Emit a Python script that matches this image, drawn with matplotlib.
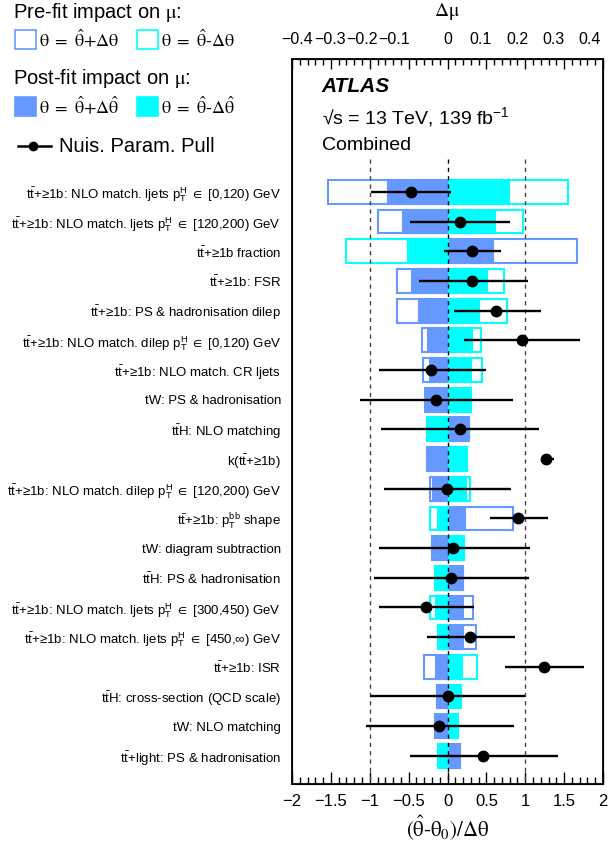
import numpy as np
import matplotlib
matplotlib.use("Agg")
import matplotlib.pyplot as plt
from matplotlib.patches import Rectangle
from matplotlib.lines import Line2D
from matplotlib.ticker import MultipleLocator
from matplotlib.transforms import ScaledTranslation

plt.rcParams['font.family'] = ['Liberation Sans', 'DejaVu Sans']
plt.rcParams['mathtext.fontset'] = 'custom'
plt.rcParams['mathtext.rm'] = 'Liberation Sans'
plt.rcParams['mathtext.it'] = 'Liberation Sans:italic'
plt.rcParams['mathtext.bf'] = 'Liberation Sans:bold'
plt.rcParams['mathtext.fallback'] = 'stix'

TT = r"t$\bar{\rm t}$"
PTH = r"$\mathrm{p}_{\rm T}^{\rm H}$ ${\in}$"

labels = [
    TT + "+≥1b: NLO match. ljets " + PTH + " [0,120) GeV",
    TT + "+≥1b: NLO match. ljets " + PTH + " [120,200) GeV",
    TT + "+≥1b fraction",
    TT + "+≥1b: FSR",
    TT + "+≥1b: PS & hadronisation dilep",
    TT + "+≥1b: NLO match. dilep " + PTH + " [0,120) GeV",
    TT + "+≥1b: NLO match. CR ljets",
    "tW: PS & hadronisation",
    TT + "H: NLO matching",
    "k(" + TT + "+≥1b)",
    TT + "+≥1b: NLO match. dilep " + PTH + " [120,200) GeV",
    TT + r"+≥1b: $\mathrm{p}_{\rm T}^{\rm bb}$ shape",
    "tW: diagram subtraction",
    TT + "H: PS & hadronisation",
    TT + "+≥1b: NLO match. ljets " + PTH + " [300,450) GeV",
    TT + "+≥1b: NLO match. ljets " + PTH + r" [450,$\infty$) GeV",
    TT + "+≥1b: ISR",
    TT + "H: cross-section (QCD scale)",
    "tW: NLO matching",
    TT + "+light: PS & hadronisation",
]

# impact on mu (delta mu) for theta = theta_hat +/- delta theta
prefit_up = [-0.308, -0.180, 0.333, -0.130, -0.129, -0.066, -0.063, -0.057, 0.056, -0.054,
             -0.046, 0.168, -0.041, 0.039, 0.066, 0.073, -0.061, -0.028, -0.031, 0.032]
prefit_down = [0.309, 0.193, -0.262, 0.145, 0.153, 0.086, 0.088, 0.060, -0.053, 0.051,
               0.057, -0.044, 0.042, -0.033, -0.044, -0.025, 0.076, 0.035, 0.027, -0.024]
postfit_up = [-0.156, -0.117, 0.117, -0.093, -0.075, -0.052, -0.048, -0.057, 0.056, -0.054,
              -0.040, 0.046, -0.041, 0.039, 0.039, 0.039, -0.031, -0.028, -0.031, 0.032]
postfit_down = [0.157, 0.123, -0.105, 0.102, 0.082, 0.063, 0.061, 0.060, -0.053, 0.051,
                0.047, -0.027, 0.042, -0.033, -0.031, -0.021, 0.038, 0.035, 0.027, -0.024]

# nuisance parameter pulls
pulls = [-0.47, 0.163, 0.309, 0.32, 0.63, 0.956, -0.206, -0.144, 0.159, 1.273,
         -0.009, 0.913, 0.077, 0.039, -0.274, 0.292, 1.235, 0.0, -0.103, 0.463]
pull_err_lo = [0.51, 0.645, 0.36, 0.69, 0.55, 0.74, 0.68, 0.98, 1.01, 0.07,
               0.81, 0.36, 0.96, 0.99, 0.61, 0.56, 0.50, 1.0, 0.95, 0.95]
pull_err_hi = [0.52, 0.647, 0.373, 0.71, 0.57, 0.75, 0.70, 0.99, 1.02, 0.10,
               0.83, 0.38, 0.98, 1.01, 0.62, 0.57, 0.52, 1.0, 0.96, 0.96]

mu_ticks = [-0.4, -0.3, -0.2, -0.1, 0, 0.1, 0.2, 0.3, 0.4]
mu_ticklabels = ["−0.4", "−0.3", "−0.2", "−0.1", "0", "0.1", "0.2", "0.3", "0.4"]
pull_ticks = [-2, -1.5, -1, -0.5, 0, 0.5, 1, 1.5, 2]
pull_ticklabels = ["−2", "−1.5", "−1", "−0.5", "0", "0.5", "1", "1.5", "2"]

BLUE = '#6699ff'
CYAN = '#00ffff'

n = len(labels)
y = np.arange(n)

fig = plt.figure(figsize=(6.08, 8.43), dpi=100)
ax = fig.add_axes([292 / 608, 1 - 784 / 843, 311 / 608, 725 / 843])
ax_top = ax.twiny()
ax.set_zorder(ax_top.get_zorder() + 1)
ax.patch.set_visible(False)

# impact bars on the delta mu scale
h = 0.8
ax_top.barh(y, prefit_up, height=h, facecolor='white', edgecolor=BLUE, linewidth=1.5)
ax_top.barh(y, prefit_down, height=h, facecolor='white', edgecolor=CYAN, linewidth=1.5)
ax_top.barh(y, postfit_up, height=h, facecolor=BLUE, edgecolor=BLUE, linewidth=0.8)
ax_top.barh(y, postfit_down, height=h, facecolor=CYAN, edgecolor=CYAN, linewidth=0.8)
ax_top.set_xlim(-0.4, 0.4)
ax_top.set_xticks(mu_ticks, mu_ticklabels)
ax_top.xaxis.set_minor_locator(MultipleLocator(0.02))
ax_top.tick_params(axis='x', which='both', direction='in', labelsize=11.5, pad=9)
ax_top.tick_params(axis='x', which='major', length=7, width=1)
ax_top.tick_params(axis='x', which='minor', length=4, width=1)
ax_top.set_xlabel(r"$\mathrm{\Delta\mu}$", fontsize=14, math_fontfamily='stix', labelpad=11)

# the top labels sit a little left of their ticks, as in the original ROOT output
label_shift = [5, -1, -8, -15, 0, -6, -8, -11, -13]
for lab, dx in zip(ax_top.get_xticklabels(), label_shift):
    lab.set_transform(lab.get_transform() + ScaledTranslation(dx / 100, 0, fig.dpi_scale_trans))

# dashed guide lines and pulls
for xv, col in [(-1, '#444444'), (0, 'black'), (1, '#444444')]:
    ax.plot([xv, xv], [-1.1, n + 1], ls=(0, (3, 3)), color=col, lw=1, zorder=3)
ax.errorbar(pulls, y, xerr=[pull_err_lo, pull_err_hi], fmt='o', color='black',
            ms=7.5, lw=1.7, capsize=0, zorder=4)

ax.set_xlim(-2, 2)
ax.set_ylim(19.95, -4.48)
ax.set_xticks(pull_ticks, pull_ticklabels)
ax.xaxis.set_minor_locator(MultipleLocator(0.1))
ax.tick_params(axis='x', which='both', direction='in', labelsize=12, pad=7)
ax.tick_params(axis='x', which='major', length=9, width=1)
ax.tick_params(axis='x', which='minor', length=5, width=1)
ax.set_xlabel(r"$\mathrm{(\hat{\theta}\text{-}\theta_0)/\Delta\theta}$", fontsize=15,
              math_fontfamily='stix', labelpad=3)
ax.set_yticks(y, labels)
ax.tick_params(axis='y', length=0, labelsize=9.5, pad=8)
ax_top.tick_params(axis='y', left=False, right=False, labelleft=False, labelright=False)
for sp in ax.spines.values():
    sp.set_linewidth(1.3)

ax.text(0.096, 0.962, "ATLAS", transform=ax.transAxes, fontsize=15,
        fontweight='bold', fontstyle='italic', va='center')
ax.text(0.096, 0.920, r"√s = 13 TeV, 139 fb$^{-1}$", transform=ax.transAxes,
        fontsize=14, va='center')
ax.text(0.096, 0.880, "Combined", transform=ax.transAxes, fontsize=14, va='center')

# legend block, drawn in figure pixel coordinates
lg = fig.add_axes([0, 0, 1, 1])
lg.set_xlim(0, 608)
lg.set_ylim(843, 0)
lg.axis('off')
lg.patch.set_visible(False)
lg.text(13, 13, r"Pre-fit impact on $\mathrm{\mu}$:", fontsize=14.5, va='center',
        math_fontfamily='stix')
lg.text(13, 79, r"Post-fit impact on $\mathrm{\mu}$:", fontsize=14.5, va='center',
        math_fontfamily='stix')
for x0, col in [(15, BLUE), (137, CYAN)]:
    lg.add_patch(Rectangle((x0, 30), 21, 19, facecolor='white', edgecolor=col, lw=1.2))
    lg.add_patch(Rectangle((x0, 97), 21, 19, facecolor=col, edgecolor=col, lw=1.2))
legend_texts = [
    (39, 40, r"$\mathrm{\theta\ =\ \hat{\theta}{+}\Delta\theta}$"),
    (161, 40, r"$\mathrm{\theta\ =\ \hat{\theta}\text{-}\Delta\theta}$"),
    (39, 107, r"$\mathrm{\theta\ =\ \hat{\theta}{+}\Delta\hat{\theta}}$"),
    (161, 107, r"$\mathrm{\theta\ =\ \hat{\theta}\text{-}\Delta\hat{\theta}}$"),
]
for tx, ty, s in legend_texts:
    lg.text(tx, ty, s, fontsize=13, va='center', math_fontfamily='stix')
lg.add_line(Line2D([18, 51], [146, 146], color='black', lw=1.8))
lg.add_line(Line2D([33], [146], marker='o', color='black', ms=6))
lg.text(59, 146, "Nuis. Param. Pull", fontsize=14.5, va='center')

fig.savefig("out.png", dpi=100)
